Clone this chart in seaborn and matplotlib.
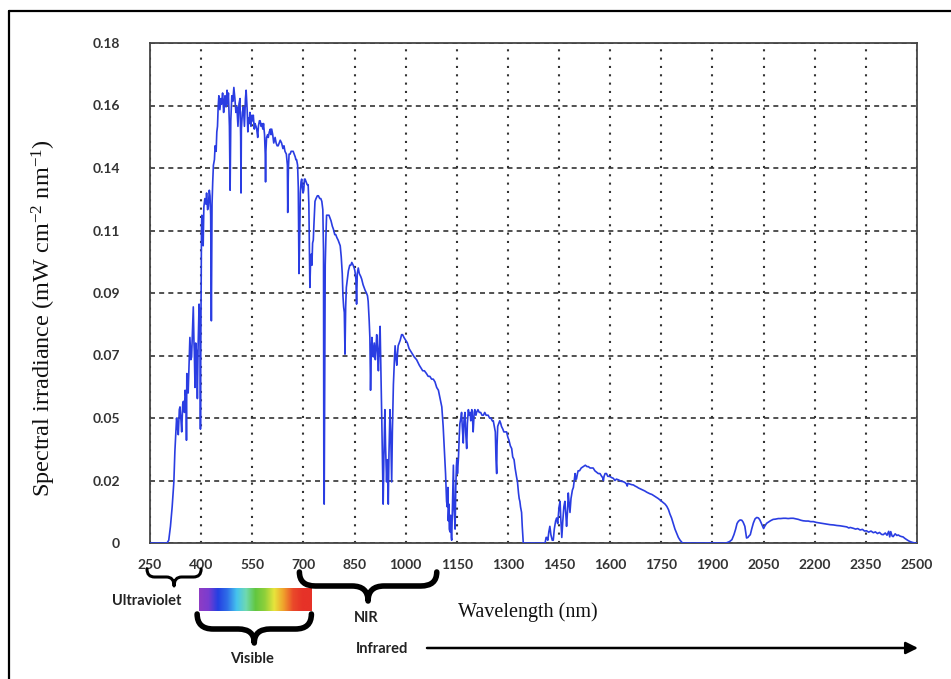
import numpy as np
import pandas as pd
import seaborn as sns
import matplotlib
matplotlib.use("Agg")
import matplotlib.pyplot as plt
from matplotlib.path import Path
from matplotlib.patches import PathPatch, FancyArrowPatch
from matplotlib.colors import LinearSegmentedColormap
from matplotlib.lines import Line2D

# ---------------------------------------------------------------------------
# Solar spectral irradiance at ground level (mW cm^-2 nm^-1), by band
# ---------------------------------------------------------------------------
uv_band = [
    (250, 0), (280, 0), (300, 0), (305, 0.001), (310, 0.006), (315, 0.013),
    (320, 0.022), (323, 0.033), (326, 0.040), (328, 0.045), (331, 0.041),
    (333, 0.039), (336, 0.048), (338, 0.049), (341, 0.044), (343, 0.040),
    (346, 0.050), (348, 0.051), (351, 0.047), (353, 0.055), (356, 0.052),
    (357, 0.037), (358, 0.061), (360, 0.057), (362, 0.054), (365, 0.066),
    (367, 0.074), (370, 0.066), (372, 0.067), (375, 0.078), (377, 0.085),
    (379, 0.072), (380, 0.069), (382, 0.056), (384, 0.072), (387, 0.068),
    (389, 0.052), (391, 0.070), (394, 0.086), (396, 0.080), (397, 0.068),
    (398, 0.041), (399, 0.070),
]

visible_band = [
    (401, 0.112), (402, 0.118), (404, 0.114), (406, 0.107), (408, 0.121),
    (411, 0.124), (414, 0.122), (416, 0.126), (419, 0.120), (421, 0.121),
    (424, 0.127), (426, 0.125), (428, 0.118), (430, 0.080), (432, 0.122),
    (434, 0.130), (436, 0.136), (439, 0.138), (441, 0.143), (444, 0.141),
    (446, 0.148), (448, 0.150), (450, 0.157), (452, 0.161), (455, 0.156),
    (458, 0.160), (460, 0.158), (463, 0.162), (466, 0.155), (468, 0.159),
    (470, 0.161), (473, 0.157), (476, 0.163), (478, 0.158), (480, 0.162),
    (483, 0.150), (485, 0.127), (487, 0.152), (490, 0.161), (493, 0.159),
    (496, 0.164), (499, 0.160), (502, 0.155), (505, 0.157), (508, 0.150),
    (511, 0.158), (514, 0.160), (516, 0.146), (517, 0.126), (518, 0.149),
    (521, 0.155), (524, 0.157), (527, 0.150), (530, 0.160), (532, 0.163),
    (535, 0.156), (537, 0.148), (539, 0.153), (541, 0.151), (543, 0.155),
    (546, 0.150), (549, 0.154), (551, 0.152), (553, 0.154), (556, 0.149),
    (558, 0.151), (561, 0.150), (563, 0.149), (566, 0.146), (568, 0.150),
    (571, 0.152), (573, 0.152), (576, 0.150), (578, 0.151), (581, 0.149),
    (583, 0.151), (586, 0.147), (588, 0.140), (589, 0.130), (590, 0.141),
    (592, 0.146), (595, 0.147), (597, 0.146), (600, 0.148), (603, 0.149),
    (605, 0.147), (607, 0.149), (610, 0.147), (613, 0.144), (617, 0.146),
    (620, 0.144), (623, 0.143), (626, 0.143), (629, 0.144), (632, 0.145),
    (636, 0.144), (640, 0.142), (643, 0.143), (646, 0.141), (650, 0.140),
    (653, 0.136), (654, 0.119), (656, 0.135), (658, 0.140), (661, 0.140),
    (664, 0.141), (667, 0.141), (670, 0.141), (673, 0.140), (676, 0.139),
    (678, 0.138), (680, 0.138), (683, 0.136), (685, 0.128), (687, 0.097),
    (689, 0.110), (691, 0.126), (693, 0.130), (695, 0.131), (697, 0.128),
    (699, 0.126),
]

nir_band = [
    (701, 0.127), (703, 0.131), (705, 0.131), (708, 0.130), (711, 0.129),
    (714, 0.129), (716, 0.122), (718, 0.100), (719, 0.092), (721, 0.101),
    (723, 0.104), (725, 0.100), (727, 0.108), (729, 0.109), (731, 0.115),
    (734, 0.123), (737, 0.124), (741, 0.125), (744, 0.125), (748, 0.124),
    (751, 0.124), (754, 0.123), (757, 0.120), (759, 0.105), (760, 0.020),
    (761, 0.014), (762, 0.040), (764, 0.100), (766, 0.110), (768, 0.118),
    (771, 0.118), (775, 0.118), (778, 0.117), (781, 0.116), (785, 0.114),
    (788, 0.113), (792, 0.111), (795, 0.111), (798, 0.110), (802, 0.109),
    (805, 0.108), (808, 0.107), (811, 0.103), (814, 0.097), (816, 0.089),
    (818, 0.085), (820, 0.083), (822, 0.068), (824, 0.085), (826, 0.092),
    (829, 0.095), (832, 0.098), (836, 0.100), (839, 0.100), (842, 0.101),
    (846, 0.100), (849, 0.099), (851, 0.098), (854, 0.095), (856, 0.086),
    (858, 0.097), (861, 0.099), (864, 0.097), (868, 0.096), (871, 0.095),
    (875, 0.093), (878, 0.092), (881, 0.091), (885, 0.090), (888, 0.089),
    (890, 0.087), (893, 0.080), (895, 0.074), (897, 0.055), (899, 0.068),
    (901, 0.074), (903, 0.070), (905, 0.067), (908, 0.072), (911, 0.066),
    (913, 0.070), (915, 0.075), (918, 0.068), (920, 0.062), (922, 0.070),
    (925, 0.078), (927, 0.065), (930, 0.044), (932, 0.030), (934, 0.014),
    (936, 0.030), (939, 0.048), (941, 0.035), (944, 0.022), (946, 0.030),
    (949, 0.014), (951, 0.032), (954, 0.048), (956, 0.040), (959, 0.022),
    (961, 0.040), (964, 0.057), (967, 0.066), (969, 0.071), (972, 0.066),
    (974, 0.064), (976, 0.068), (978, 0.071), (981, 0.072), (984, 0.073),
    (988, 0.075), (991, 0.075), (995, 0.074), (1000, 0.073), (1005, 0.072),
    (1010, 0.070), (1015, 0.069), (1020, 0.068), (1025, 0.067), (1032, 0.066),
    (1040, 0.064), (1045, 0.063), (1050, 0.062), (1055, 0.062), (1061, 0.061),
    (1066, 0.060), (1071, 0.060), (1076, 0.059), (1081, 0.059), (1086, 0.058),
    (1091, 0.056), (1096, 0.055), (1101, 0.052), (1106, 0.049), (1110, 0.042),
    (1113, 0.035), (1115, 0.030), (1117, 0.025), (1119, 0.018), (1120, 0.015),
    (1122, 0.013), (1124, 0.020), (1125, 0.008), (1127, 0.014), (1128, 0.005),
    (1130, 0.004), (1132, 0.010), (1134, 0.002), (1135, 0.001), (1137, 0.012),
    (1139, 0.022), (1140, 0.028), (1142, 0.012), (1144, 0.008), (1145, 0.005),
    (1147, 0.020), (1149, 0.028), (1150, 0.030), (1152, 0.025), (1155, 0.031),
    (1157, 0.038), (1159, 0.043), (1162, 0.045), (1164, 0.047), (1166, 0.042),
    (1169, 0.036), (1171, 0.044), (1174, 0.047), (1176, 0.040), (1179, 0.034),
    (1181, 0.043), (1184, 0.048), (1186, 0.046), (1189, 0.047), (1191, 0.044),
    (1194, 0.048), (1196, 0.045), (1198, 0.040), (1201, 0.047), (1203, 0.048),
    (1206, 0.046), (1208, 0.047), (1212, 0.048), (1216, 0.047), (1220, 0.047),
    (1224, 0.046), (1228, 0.046), (1232, 0.047), (1236, 0.046), (1242, 0.046),
    (1246, 0.045), (1250, 0.045), (1254, 0.044), (1257, 0.044), (1260, 0.042),
    (1263, 0.040), (1265, 0.030), (1267, 0.025), (1268, 0.035), (1270, 0.042),
    (1273, 0.043), (1276, 0.044), (1279, 0.043), (1281, 0.042), (1285, 0.041),
    (1288, 0.040), (1292, 0.040), (1296, 0.040), (1300, 0.038), (1303, 0.037),
    (1307, 0.035), (1311, 0.034), (1314, 0.031), (1318, 0.030), (1321, 0.027),
    (1325, 0.024), (1328, 0.022), (1331, 0.018), (1333, 0.016), (1335, 0.015),
    (1337, 0.013), (1340, 0.011), (1342, 0.006), (1345, 0),
]

swir_band = [
    (1400, 0), (1409, 0), (1412, 0.002), (1414, 0.002), (1417, 0.001),
    (1420, 0.004), (1423, 0.006), (1426, 0.003), (1430, 0.001), (1433, 0.001),
    (1436, 0.005), (1440, 0.008), (1443, 0.009), (1446, 0.007), (1450, 0.013),
    (1453, 0.015), (1455, 0.009), (1458, 0.002), (1461, 0.008), (1464, 0.013),
    (1467, 0.015), (1470, 0.010), (1472, 0.006), (1475, 0.012), (1477, 0.018),
    (1479, 0.015), (1482, 0.011), (1485, 0.016), (1489, 0.019), (1492, 0.020),
    (1495, 0.023), (1497, 0.025), (1499, 0.023), (1501, 0.023), (1504, 0.025),
    (1506, 0.026), (1510, 0.026), (1515, 0.027), (1521, 0.0275), (1527, 0.028),
    (1532, 0.0275), (1536, 0.0275), (1541, 0.027), (1545, 0.027), (1550, 0.027),
    (1555, 0.026), (1560, 0.0255), (1565, 0.025), (1570, 0.025), (1575, 0.024),
    (1578, 0.0235), (1580, 0.0225), (1582, 0.024), (1585, 0.025), (1589, 0.025),
    (1593, 0.024), (1597, 0.024), (1601, 0.0238), (1605, 0.0235), (1609, 0.0233),
    (1614, 0.0225), (1618, 0.023), (1623, 0.0228), (1628, 0.0225), (1633, 0.0222),
    (1638, 0.0221), (1643, 0.0218), (1648, 0.0212), (1650, 0.0205), (1652, 0.0215),
    (1658, 0.0212), (1663, 0.021), (1668, 0.0209), (1673, 0.0205), (1678, 0.0202),
    (1683, 0.0198), (1688, 0.0195), (1692, 0.0193), (1697, 0.019), (1702, 0.0187),
    (1707, 0.0183), (1712, 0.018), (1717, 0.0177), (1722, 0.0175), (1726, 0.0172),
    (1731, 0.0168), (1736, 0.0164), (1741, 0.016), (1746, 0.0155), (1751, 0.015),
    (1756, 0.0145), (1761, 0.014), (1766, 0.0132), (1771, 0.012), (1775, 0.0105),
    (1780, 0.009), (1785, 0.007), (1790, 0.005), (1795, 0.0035), (1800, 0.002),
    (1805, 0.001), (1812, 0),
]

far_band = [
    (1940, 0), (1950, 0.0005), (1957, 0.0012), (1963, 0.003), (1968, 0.005),
    (1972, 0.007), (1976, 0.0078), (1981, 0.0083), (1986, 0.0082), (1990, 0.0075),
    (1995, 0.006), (1998, 0.0035), (2000, 0.0018), (2004, 0.002), (2007, 0.0025),
    (2011, 0.003), (2015, 0.005), (2020, 0.0072), (2025, 0.0087), (2030, 0.0092),
    (2035, 0.009), (2039, 0.0083), (2043, 0.0072), (2047, 0.006), (2050, 0.0052),
    (2054, 0.0062), (2059, 0.0071), (2064, 0.0075), (2070, 0.008), (2078, 0.0085),
    (2085, 0.0086), (2093, 0.0088), (2100, 0.0088), (2108, 0.0089), (2115, 0.0089),
    (2122, 0.0088), (2130, 0.0089), (2137, 0.0089), (2145, 0.0087), (2152, 0.0085),
    (2159, 0.0082), (2166, 0.008), (2174, 0.0079), (2181, 0.0079), (2188, 0.0077),
    (2196, 0.0077), (2205, 0.0074), (2215, 0.0072), (2225, 0.007), (2235, 0.0068),
    (2245, 0.0066), (2255, 0.0065), (2265, 0.0063), (2274, 0.0062), (2284, 0.006),
    (2294, 0.0058), (2300, 0.0054), (2304, 0.0056), (2313, 0.0053), (2320, 0.005),
    (2326, 0.0052), (2333, 0.0047), (2340, 0.0049), (2346, 0.0043), (2352, 0.0044),
    (2358, 0.0039), (2365, 0.0043), (2372, 0.0037), (2378, 0.004), (2384, 0.0034),
    (2390, 0.0038), (2396, 0.0031), (2401, 0.003), (2407, 0.0036), (2412, 0.0028),
    (2417, 0.0042), (2420, 0.0022), (2423, 0.0041), (2427, 0.0025), (2430, 0.0023),
    (2436, 0.0033), (2441, 0.0027), (2445, 0.0029), (2450, 0.0025), (2455, 0.0023),
    (2459, 0.0022), (2465, 0.0016), (2470, 0.0012), (2475, 0.0008), (2480, 0.0005),
    (2487, 0.0002), (2494, 0), (2500, 0),
]

x_ticks = [250, 400, 550, 700, 850, 1000, 1150, 1300, 1450, 1600, 1750,
           1900, 2050, 2200, 2350, 2500]
y_tick_labels = ["0", "0.02", "0.05", "0.07", "0.09", "0.11", "0.14", "0.16", "0.18"]

# spectral regions marked under the axis (label, start nm, end nm)
regions = [("Ultraviolet", 250, 400), ("Visible", 400, 700), ("NIR", 700, 1100)]
rainbow_colors = ["#8e3cc4", "#7a3cd0", "#2440e2", "#2f6fe8", "#45c4ee",
                  "#6fd9b0", "#62c640", "#8fd03a", "#e8e43c", "#f0a02c",
                  "#ea4a2a", "#e63228", "#e63228"]

# ---------------------------------------------------------------------------
sns.set_theme(style="white")
plt.rcParams["font.family"] = ["Lato", "DejaVu Sans"]
plt.rcParams["mathtext.fontset"] = "custom"
plt.rcParams["mathtext.rm"] = "Liberation Serif"
plt.rcParams["mathtext.it"] = "Liberation Serif:italic"

W, H = 951, 679
fig = plt.figure(figsize=(W / 100, H / 100), dpi=100)
fig.patch.set_facecolor("white")
ax = fig.add_axes([150 / W, 1 - 543 / H, 767 / W, 500 / H])


def fxy(x, y):
    """pixel position (from top-left) -> figure fraction"""
    return x / W, 1 - y / H


spectrum = pd.DataFrame(uv_band + visible_band + nir_band + swir_band + far_band,
                        columns=["wavelength", "irradiance"])
sns.lineplot(data=spectrum, x="wavelength", y="irradiance", ax=ax,
             color="#2a3de2", lw=1.2, estimator=None, sort=False, zorder=3)

ax.set_xlim(250, 2500)
ax.set_ylim(0, 0.18)
ax.set_xticks(x_ticks)
ax.set_xticklabels([str(t) for t in x_ticks])
ax.set_yticks(np.linspace(0, 0.18, len(y_tick_labels)))
ax.set_yticklabels(y_tick_labels)
ax.set_xlabel("")
ax.set_ylabel("")

for lab in ax.get_xticklabels() + ax.get_yticklabels():
    lab.set_fontweight("bold")
    lab.set_fontsize(10)
    lab.set_color("#333333")

ax.tick_params(axis="both", direction="inout", length=5, width=1.0, color="#333333")
ax.tick_params(axis="y", pad=19)
ax.tick_params(axis="x", pad=9)

ax.grid(axis="x", linestyle=(0, (1, 3)), color="#333333", lw=1.5)
ax.grid(axis="y", linestyle=(0, (3, 2.5)), color="#333333", lw=1.2)
for side in ["left", "bottom", "top", "right"]:
    ax.spines[side].set_color("#444444")
    ax.spines[side].set_linewidth(1.3)

# axis titles
fig.text(*fxy(44, 318), r"Spectral irradiance (mW cm$^{-2}$ nm$^{-1}$)",
         rotation=90, ha="center", va="center", fontsize=17.5,
         family="Liberation Serif", color="#111111")
fig.text(*fxy(458, 612), "Wavelength (nm)", ha="left", va="center",
         fontsize=14.5, family="Liberation Serif", color="#111111")

# outer frame (left and top edges)
fig.add_artist(Line2D([9 / W, 9 / W], [0, 1 - 11 / H], transform=fig.transFigure,
                      color="black", lw=1.6))
fig.add_artist(Line2D([9 / W, 1], [1 - 11 / H, 1 - 11 / H], transform=fig.transFigure,
                      color="black", lw=1.6))


def brace(x0, x1, y_end, y_mid, y_tip, lw):
    xc = (x0 + x1) / 2
    q = min((x1 - x0) * 0.14, 16)
    pts = [(x0, y_end), (x0, y_mid), (x0 + q, y_mid),
           (xc - q, y_mid),
           (xc, y_mid), (xc, y_tip),
           (xc, y_mid), (xc + q, y_mid),
           (x1 - q, y_mid),
           (x1, y_mid), (x1, y_end)]
    codes = [Path.MOVETO, Path.CURVE3, Path.CURVE3, Path.LINETO,
             Path.CURVE3, Path.CURVE3, Path.CURVE3, Path.CURVE3,
             Path.LINETO, Path.CURVE3, Path.CURVE3]
    path = Path([fxy(x, y) for x, y in pts], codes)
    fig.add_artist(PathPatch(path, transform=fig.transFigure, fill=False,
                             edgecolor="black", lw=lw, capstyle="round",
                             joinstyle="round"))


def nm_to_px(nm):
    return 150 + (nm - 250) * 767 / 2250


# region braces and labels
uv, vis, nir = regions
brace(nm_to_px(uv[1]) - 3, nm_to_px(uv[2]), 569, 577, 586, 2.2)
brace(nm_to_px(vis[1]) - 4, nm_to_px(vis[2]) + 8, 614, 629, 643, 4.0)
brace(nm_to_px(nir[1]) - 4, nm_to_px(nir[2]) - 3, 572, 586, 601, 4.0)

label_style = dict(fontsize=10.5, fontweight="bold", color="#222222",
                   ha="center", va="center")
fig.text(*fxy(147, 601), uv[0], **label_style)
fig.text(*fxy(252, 659), vis[0], **label_style)
fig.text(*fxy(366, 618), nir[0], **label_style)
fig.text(*fxy(382, 649), "Infrared", **label_style)

# rainbow strip for the visible band
x0, x1 = nm_to_px(vis[1]) - 2, nm_to_px(vis[2]) + 8
bar_ax = fig.add_axes([x0 / W, 1 - 611 / H, (x1 - x0) / W, 23 / H])
rainbow = LinearSegmentedColormap.from_list("rainbow_strip", rainbow_colors)
bar_ax.imshow(np.linspace(0, 1, 256)[None, :], cmap=rainbow, aspect="auto")
bar_ax.set_axis_off()

# infrared arrow
fig.add_artist(FancyArrowPatch(fxy(427, 648), fxy(918, 648), transform=fig.transFigure,
                               arrowstyle="-|>", mutation_scale=18, lw=1.8,
                               color="black", shrinkA=0, shrinkB=0))

fig.savefig("out.png", dpi=100, facecolor="white")
